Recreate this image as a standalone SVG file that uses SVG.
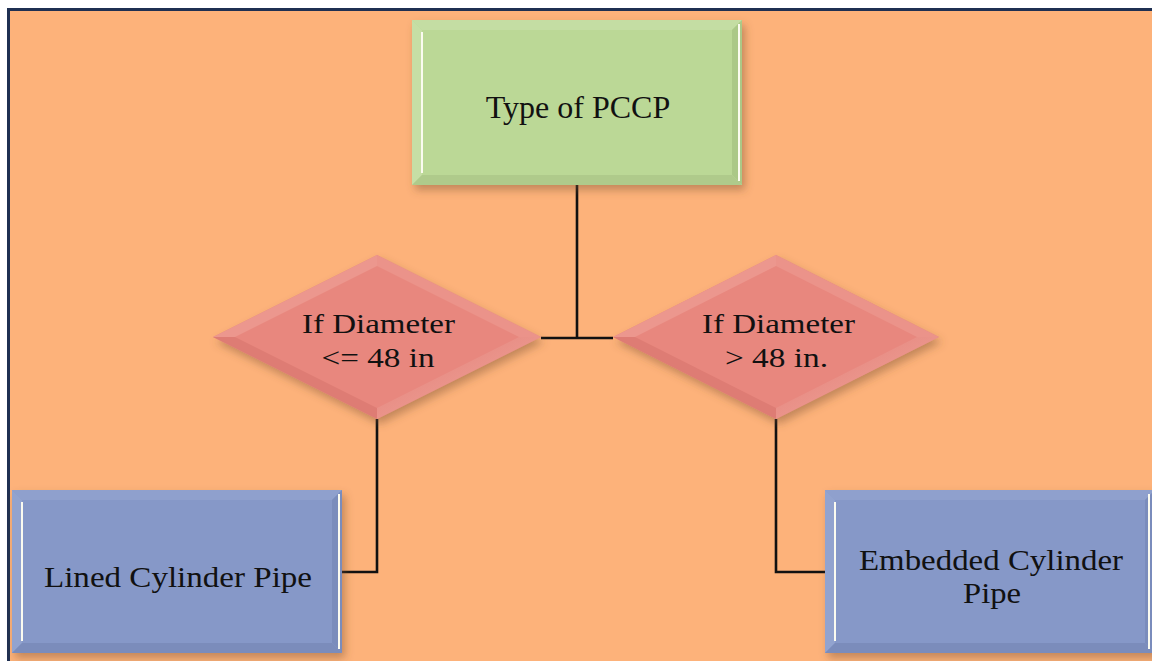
<svg xmlns="http://www.w3.org/2000/svg" width="1152" height="661" viewBox="0 0 1152 661">
<style>
.lbl{fill:#111;text-anchor:middle}
.conn{fill:none;stroke:#111;stroke-width:2.6}
.hiW{stroke:#fbfbf0;stroke-width:2;fill:none}
</style>
<defs>
<filter id="sh" x="-10%" y="-10%" width="125%" height="130%">
<feDropShadow dx="3" dy="5" stdDeviation="4" flood-color="#7a5236" flood-opacity="0.45"/>
</filter>
<linearGradient id="gBR" x1="0" y1="0" x2="1" y2="1">
<stop offset="0" stop-color="#e07b72"/>
<stop offset="0.8" stop-color="#f0a299"/>
<stop offset="1" stop-color="#fde0da"/>
</linearGradient>
</defs>
<rect x="0" y="0" width="1152" height="661" fill="#ffffff"/>
<rect x="7" y="8" width="1160" height="670" fill="#1f3052"/>
<rect x="10" y="11" width="1160" height="670" fill="#fdb27a"/>

<g id="connectors">
<path class="conn" d="M577,185 V338 M541,338 H613 M377,419 V572 H342 M776,419 V572 H825"/>
</g>

<g font-family="'Liberation Serif', 'Times New Roman', serif">
<g id="node-type">
<rect x="412" y="20" width="330" height="165" fill="#bbd896" filter="url(#sh)"/>
<polygon points="412,20 742,20 732,30 422,30" fill="#c4dda3"/>
<polygon points="412,20 422,30 422,175 412,185" fill="#c6dea5"/>
<polygon points="742,20 742,185 732,175 732,30" fill="#abc887"/>
<polygon points="412,185 742,185 732,175 422,175" fill="#afca8b"/>
<line class="hiW" x1="422" y1="32" x2="422" y2="173"/>
<line class="hiW" x1="739" y1="24" x2="739" y2="181"/>
<text class="lbl" x="578" y="118" font-size="32">Type of PCCP</text>
</g>

<g id="node-dia-left">
<polygon points="213,337 377,255 541,337 377,419" fill="#e8877e" filter="url(#sh)"/>
<polygon points="213,337 377,255 377,266 235,337" fill="#ec978e"/>
<polygon points="377,255 541,337 519,337 377,266" fill="#eb938a"/>
<polygon points="541,337 377,419 377,408 519,337" fill="url(#gBR)"/>
<polygon points="377,419 213,337 235,337 377,408" fill="#de7c74"/>
<text class="lbl" x="378.5" y="333" font-size="28" textLength="153" lengthAdjust="spacingAndGlyphs">If Diameter</text>
<text class="lbl" x="378" y="367" font-size="28" textLength="113" lengthAdjust="spacingAndGlyphs">&lt;= 48 in</text>
</g>

<g id="node-dia-right">
<polygon points="613,337 776,255 939,337 776,419" fill="#e8877e" filter="url(#sh)"/>
<polygon points="613,337 776,255 776,266 635,337" fill="#ec978e"/>
<polygon points="776,255 939,337 917,337 776,266" fill="#eb938a"/>
<polygon points="939,337 776,419 776,408 917,337" fill="url(#gBR)"/>
<polygon points="776,419 613,337 635,337 776,408" fill="#de7c74"/>
<text class="lbl" x="778.5" y="333" font-size="28" textLength="153" lengthAdjust="spacingAndGlyphs">If Diameter</text>
<text class="lbl" x="776.5" y="367" font-size="28" textLength="103" lengthAdjust="spacingAndGlyphs">&gt; 48 in.</text>
</g>

<g id="node-lined">
<rect x="12" y="490" width="330" height="163" fill="#8698c8" filter="url(#sh)"/>
<polygon points="12,490 342,490 332,500 22,500" fill="#8fa0cd"/>
<polygon points="12,490 22,500 22,643 12,653" fill="#92a3cf"/>
<polygon points="342,490 342,653 332,643 332,500" fill="#7a8cbc"/>
<polygon points="12,653 342,653 332,643 22,643" fill="#7b8cbb"/>
<line class="hiW" x1="22" y1="502" x2="22" y2="641"/>
<line class="hiW" x1="339" y1="494" x2="339" y2="649"/>
<text class="lbl" x="178" y="587" font-size="30" textLength="268" lengthAdjust="spacingAndGlyphs">Lined Cylinder Pipe</text>
</g>

<g id="node-embedded">
<rect x="825" y="490" width="330" height="163" fill="#8698c8" filter="url(#sh)"/>
<polygon points="825,490 1155,490 1145,500 835,500" fill="#8fa0cd"/>
<polygon points="825,490 835,500 835,643 825,653" fill="#92a3cf"/>
<polygon points="1155,490 1155,653 1145,643 1145,500" fill="#7a8cbc"/>
<polygon points="825,653 1155,653 1145,643 835,643" fill="#7b8cbb"/>
<line class="hiW" x1="835" y1="502" x2="835" y2="641"/>
<line class="hiW" x1="1149" y1="494" x2="1149" y2="649"/>
<text class="lbl" x="991" y="570" font-size="30" textLength="264" lengthAdjust="spacingAndGlyphs">Embedded Cylinder</text>
<text class="lbl" x="992" y="603" font-size="30" textLength="58" lengthAdjust="spacingAndGlyphs">Pipe</text>
</g>
</g>
</svg>
